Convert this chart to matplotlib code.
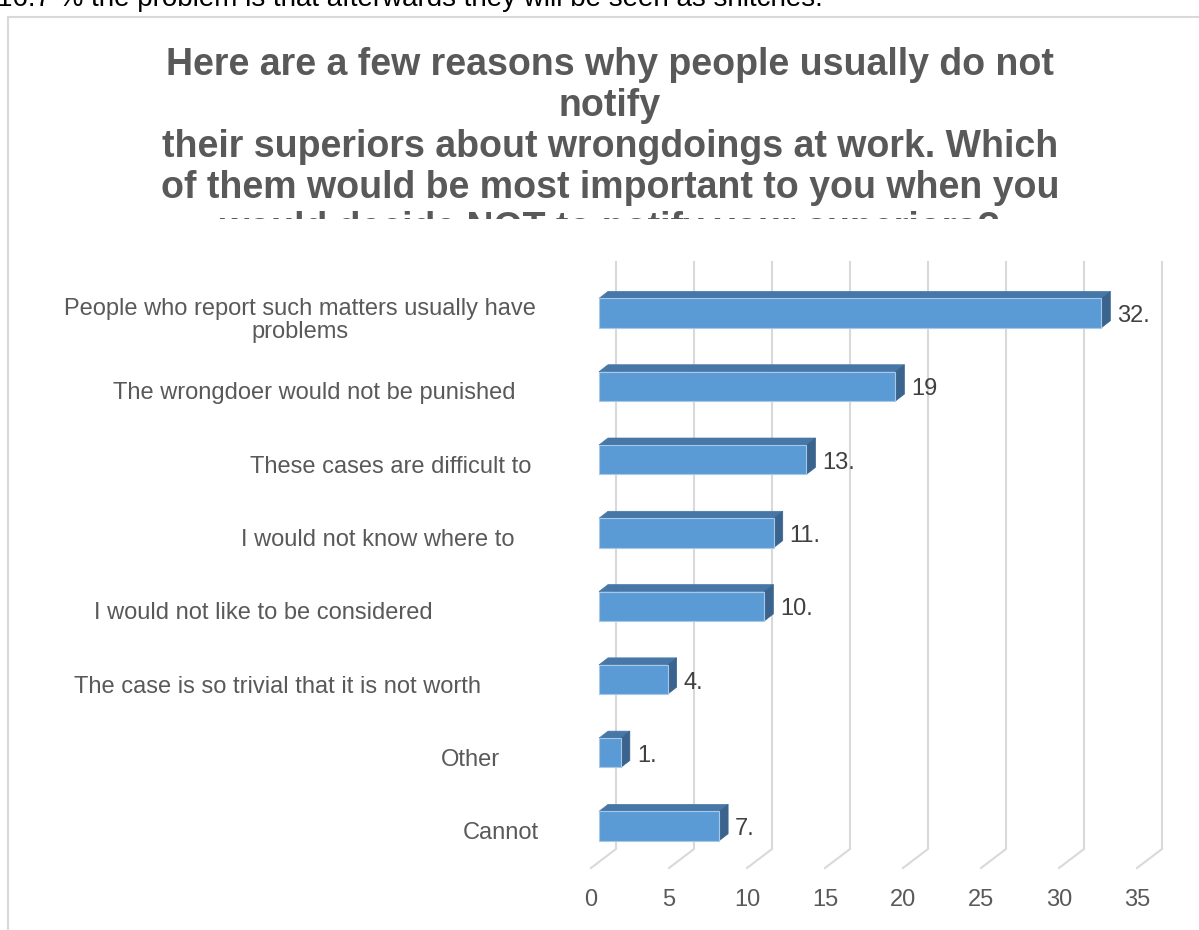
import matplotlib
matplotlib.use("Agg")
import matplotlib.pyplot as plt
from matplotlib.patches import Polygon
from matplotlib.lines import Line2D
from matplotlib.transforms import Bbox, TransformedBbox

plt.rcParams['font.family'] = ['Liberation Sans', 'DejaVu Sans']

# --- data ---
categories = [
    "People who report such matters usually have\nproblems",
    "The wrongdoer would not be punished",
    "These cases are difficult to",
    "I would not know where to",
    "I would not like to be considered",
    "The case is so trivial that it is not worth",
    "Other",
    "Cannot",
]
values = [32.2, 19.0, 13.3, 11.2, 10.6, 4.4, 1.4, 7.7]
value_labels = ["32.", "19", "13.", "11.", "10.", "4.", "1.", "7."]
x_ticks = [0, 5, 10, 15, 20, 25, 30, 35]

title_lines = [
    "Here are a few reasons why people usually do not",
    "notify",
    "their superiors about wrongdoings at work. Which",
    "of them would be most important to you when you",
    "would decide NOT to notify your superiors?",
]
note_text = "16.7 % the problem is that afterwards they will be seen as snitches."

# --- layout (pixels) ---
W, H = 1199, 930
label_dx = [-291, -277, -200, -213, -328, -313, -121, -90]   # category label centres
FRONT = (8, 6)     # bar front face offset from floor front
BACK = (17, 13)    # bar back face offset
WALL = (25, 19)    # back wall offset
BAR_H = 0.40
GRID = '#d9d9d9'
TXT = '#595959'

fig = plt.figure(figsize=(W / 100, H / 100), dpi=100)
ax = fig.add_axes([591 / W, (H - 868) / H, 546 / W, (868 - 281) / H])
ax.set_xlim(0, 35)
ylo, yhi = 7.49, -0.52
ax.set_ylim(ylo, yhi)
for s in ax.spines.values():
    s.set_visible(False)
ax.set_yticks([])
ax.set_xticks(x_ticks)
ax.tick_params(axis='x', length=0, pad=15, labelsize=17, labelcolor=TXT)


def shift(x, y, d):
    p = ax.transData.transform((x, y))
    return ax.transData.inverted().transform((p[0] + d[0], p[1] + d[1]))


# gridlines on back wall + floor diagonals
for t in x_ticks:
    a = shift(t, yhi, WALL)
    b = shift(t, ylo, WALL)
    ax.plot([a[0], b[0], t], [a[1], b[1], ylo], color=GRID, lw=1.5,
            clip_on=False, zorder=1, solid_joinstyle='miter')

# 3d bars
for i, v in enumerate(values):
    yt, yb = i - BAR_H / 2, i + BAR_H / 2
    front = [shift(0, yt, FRONT), shift(v, yt, FRONT), shift(v, yb, FRONT), shift(0, yb, FRONT)]
    top = [shift(0, yt, FRONT), shift(v, yt, FRONT), shift(v, yt, BACK), shift(0, yt, BACK)]
    side = [shift(v, yt, FRONT), shift(v, yt, BACK), shift(v, yb, BACK), shift(v, yb, FRONT)]
    ax.add_patch(Polygon(top, closed=True, facecolor='#4677a7', edgecolor='#4677a7',
                         lw=0.5, clip_on=False, zorder=3))
    ax.add_patch(Polygon(side, closed=True, facecolor='#3a648d', edgecolor='#3a648d',
                         lw=0.5, clip_on=False, zorder=3))
    ax.add_patch(Polygon(front, closed=True, facecolor='#5b9bd5', edgecolor='#a9c8e8',
                         lw=0.8, clip_on=False, zorder=4))
    ax.annotate(value_labels[i], xy=(v, i), xytext=(24, 3), textcoords='offset pixels',
                ha='left', va='center', fontsize=17, color='#404040', zorder=5,
                annotation_clip=False)

# category labels
for i, cat in enumerate(categories):
    ax.annotate(cat, xy=(0, i), xytext=(label_dx[i], -1), textcoords='offset pixels',
                ha='center', va='center', multialignment='center', linespacing=1.05,
                fontsize=17, color=TXT, annotation_clip=False)

# title, last line cut off where the plot area starts
clip = TransformedBbox(Bbox([[0, 1 - 219 / H], [1, 1]]), fig.transFigure)
for k, line in enumerate(title_lines):
    t = fig.text(610 / W, 1 - (75 + 41 * k) / H, line, ha='center', va='baseline',
                 fontsize=27, fontweight='bold', color=TXT)
    t.set_clip_box(clip)
    t.set_clip_on(True)

# text from the page above, cut by the top edge
fig.text(-3 / W, 1 - 6 / H, note_text, ha='left', va='baseline', fontsize=20, color='black')

# chart border
fig.add_artist(Line2D([8 / W, 8 / W], [0, 1 - 17 / H], color=GRID, lw=1.5, transform=fig.transFigure))
fig.add_artist(Line2D([8 / W, 1], [1 - 17 / H, 1 - 17 / H], color=GRID, lw=1.5, transform=fig.transFigure))

fig.savefig("out.png", dpi=100)
